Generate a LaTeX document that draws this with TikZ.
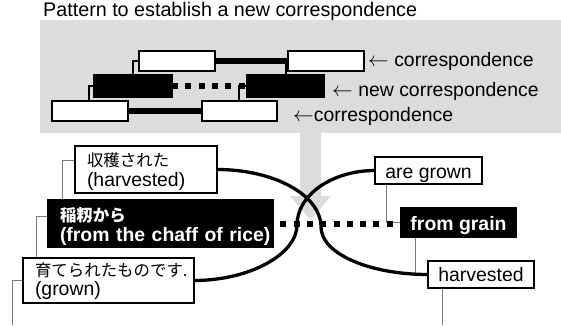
\documentclass[tikz,border=0pt]{standalone}
\usepackage{fontspec}
\setmainfont{Liberation Sans}
\newfontfamily\jp{Noto Sans CJK JP}
\usetikzlibrary{calc}
\definecolor{panelgray}{RGB}{220,220,220}
\definecolor{linkgray}{RGB}{120,120,120}
\pgfdeclarelayer{back}
\pgfdeclarelayer{mid}
\pgfsetlayers{back,mid,main}
\newcommand{\larr}{$\leftarrow$}
\newcommand{\topstrut}[1]{\rule{0pt}{#1bp}}
\newcommand{\botstrut}[1]{\rule[-#1bp]{0pt}{#1bp}}
\newcommand{\jpline}[1]{\mbox{\jp\fontsize{16.5}{21}\selectfont #1}}
\begin{document}
\begin{tikzpicture}[x=1bp,y=-1bp,
  every node/.style={font=\fontsize{19.5}{21}\selectfont},
  wbox/.style={draw=black, line width=1.8bp, fill=white, anchor=north west, inner sep=0pt, outer sep=0pt},
  bbox/.style={wbox, fill=black, text=white, font=\fontsize{19.5}{21}\selectfont\bfseries},
  sz/.style 2 args={minimum width=#1bp, minimum height=#2bp},
  jtext/.style={align=left, text width=#1bp, inner xsep=12bp, inner ysep=0pt},
  ktext/.style 2 args={text height=#1bp, text depth=#2bp, inner ysep=0pt},
  plink/.style={draw=black, line width=1.3bp},
  glink/.style={draw=linkgray, line width=1bp},
  thickcorr/.style={draw=black, line width=6bp},
  dotcorr/.style={draw=black, line width=6bp, dash pattern=on 6bp off 7.3bp},
  curve/.style={draw=black, line width=3.3bp}
]
\useasboundingbox (0,0) rectangle (561,325);

% title
\node[anchor=base west, inner sep=0pt, font=\fontsize{19.8}{22}\selectfont] (title) at (43,16) {Pattern to establish a new correspondence};

% gray panel and its arrow
\begin{pgfonlayer}{back}
\node[fill=panelgray, anchor=north west, inner sep=0pt, sz={521}{113}] (panel) at (40,20) {};
\coordinate (tip) at (310.5,220);
\fill[panelgray] (300,132) -- (300,196) -- (290,196) -- (tip) -- (331,196) -- (321,196) -- (321,132) -- cycle;
\end{pgfonlayer}

% panel boxes
\node[wbox, sz={76}{20}] (A1) at (139,51) {};
\node[wbox, sz={76}{20}] (A2) at (288,51) {};
\node[bbox, sz={78}{22}] (B1) at (94,75) {};
\node[bbox, sz={77}{22}] (B2) at (247,75) {};
\node[wbox, sz={76}{20}] (C1) at (52,101) {};
\node[wbox, sz={75}{20}] (C2) at (202,101) {};

\node[anchor=base west, inner sep=0pt] (lab1) at (368,66) {\larr{} correspondence};
\node[anchor=base west, inner sep=0pt] (lab2) at (332,96) {\larr{} new correspondence};
\node[anchor=base west, inner sep=0pt] (lab3) at (293,121) {\larr{}correspondence};

% lower diagram boxes
\node[wbox, sz={142}{47}, jtext=118] (J1) at (75,146)
  {\topstrut{20}\jpline{収穫された}\\(harvested)\botstrut{6}};
\node[bbox, sz={225}{47}, jtext=201] (J2) at (48,200)
  {\topstrut{21}\jpline{\bfseries 稲籾から}\\\mbox{(from the chaff of rice)}\botstrut{5}};
\node[wbox, sz={171}{45}, jtext=147, font=\fontsize{19.5}{20}\selectfont] (J3) at (23,258)
  {\topstrut{18}\jpline{育てられたものです.}\\(grown)\botstrut{7}};
\node[wbox, sz={107}{27}, ktext={21}{6}] (K1) at (375,157) {are grown};
\node[bbox, sz={115}{29}, ktext={22}{7}] (K2) at (401,208) {from grain};
\node[wbox, sz={106}{27}, ktext={20}{7}] (K3) at (428,261) {harvested};

\coordinate (m1) at (321,227);
\coordinate (m2) at (297,225);
\coordinate (e1) at (12,325);
\coordinate (e2) at (442,325);

\begin{pgfonlayer}{mid}
\draw[thickcorr] (A1.east) -- (A2.west);
\draw[dotcorr] (B1.east) -- (B2.west);
\draw[thickcorr] (C1.east) -- (C2.west);

\draw[plink] ($(C1.north west)+(37,0)$) |- (B1.west);
\draw[plink] ($(B1.north west)+(39,0)$) |- (A1.west);
\draw[plink] ($(C2.north west)+(37,0)$) |- (B2.west);
\draw[plink] ($(B2.north west)+(39,0)$) |- (A2.west);

\draw[glink] ($(J2.north west)+(14,0)$) |- ($(J1.north west)+(0,14)$);
\draw[glink] ($(J3.north west)+(13,0)$) |- ($(J2.north west)+(0,16)$);
\draw[glink] (J3.west) -| (e1);
\draw[glink] ($(K1.south west)+(11,0)$) |- (K2.west);
\draw[glink] ($(K2.south west)+(14,0)$) |- (K3.west);
\draw[glink] (K3.south -| e2) -- (e2);

\draw[dotcorr, dash phase=6bp] (J2.east) -- (J2.east -| K2.west);
\draw[curve] (J1.east) .. controls (274,169.5) and (321,195) .. (m1) .. controls (321,253.5) and (369,274.5) .. (K3.west);
\draw[curve] (J3.east) .. controls (250,280.5) and (297,254) .. (m2) .. controls (297,195) and (332,170.5) .. (K1.west);
\end{pgfonlayer}
\end{tikzpicture}
\end{document}
